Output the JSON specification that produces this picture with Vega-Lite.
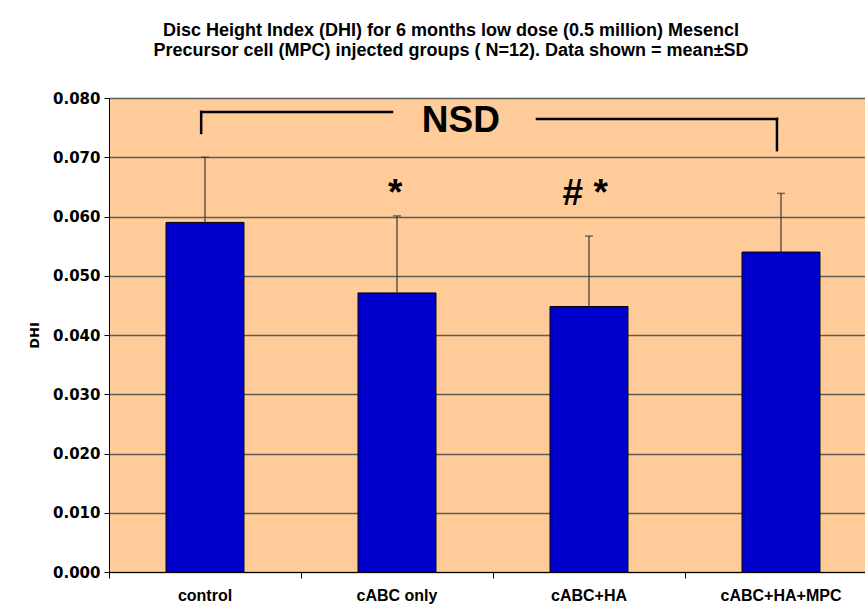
{
  "$schema": "https://vega.github.io/schema/vega-lite/v6.json",
  "width": 768,
  "height": 474,
  "autosize": {"type": "none"},
  "padding": {"left": 109, "top": 98, "right": -12, "bottom": 42},
  "background": "white",
  "title": {
    "text": ["Disc Height Index (DHI) for 6 months low dose (0.5 million) Mesencl", "Precursor cell (MPC) injected groups ( N=12). Data shown = mean±SD"],
    "anchor": "middle",
    "dx": -42,
    "offset": 31,
    "font": "Liberation Sans",
    "fontSize": 18,
    "fontWeight": "bold",
    "lineHeight": 20,
    "color": "black"
  },
  "datasets": {
    "bars": [
      {"group": "control", "mean": 0.059, "upper": 0.070},
      {"group": "cABC only", "mean": 0.0471, "upper": 0.0601},
      {"group": "cABC+HA", "mean": 0.0448, "upper": 0.0567},
      {"group": "cABC+HA+MPC", "mean": 0.054, "upper": 0.0639}
    ],
    "lines": [
      {"x": 0.48, "x2": 0.48, "y": 0.0741, "y2": 0.07764},
      {"x": 0.48, "x2": 1.474, "y": 0.07764, "y2": 0.07764},
      {"x": 2.229, "x2": 3.479, "y": 0.07646, "y2": 0.07646},
      {"x": 3.479, "x2": 3.479, "y": 0.0712, "y2": 0.07646}
    ],
    "labels": [
      {"x": 1.833, "y": 0.0743, "text": "NSD"},
      {"x": 1.49, "y": 0.0619, "text": "*"},
      {"x": 2.48, "y": 0.0619, "text": "# *"}
    ]
  },
  "resolve": {"scale": {"x": "independent"}},
  "layer": [
    {
      "data": {"name": "bars"},
      "mark": {"type": "bar", "color": "#0000CC", "stroke": "black", "strokeWidth": 1, "width": {"band": 0.406}},
      "encoding": {
        "x": {
          "field": "group", "type": "nominal", "sort": null,
          "scale": {"paddingInner": 0, "paddingOuter": 0},
          "axis": {
            "title": null, "labelAngle": 0, "bandPosition": 0,
            "domainColor": "black", "domainWidth": 1,
            "tickColor": "black", "tickSize": 6, "tickWidth": 1,
            "labelFont": "Liberation Sans", "labelFontSize": 16, "labelFontWeight": "bold",
            "labelColor": "black", "labelPadding": 9, "grid": false
          }
        },
        "y": {
          "field": "mean", "type": "quantitative", "title": "DHI",
          "scale": {"domain": [0, 0.08], "nice": false, "zero": true},
          "axis": {
            "values": [0, 0.01, 0.02, 0.03, 0.04, 0.05, 0.06, 0.07, 0.08],
            "format": ".3f",
            "domainColor": "black", "domainWidth": 1,
            "tickColor": "black", "tickSize": 5, "tickWidth": 1,
            "labelFont": "DejaVu Sans", "labelFontSize": 15, "labelFontWeight": "bold",
            "labelColor": "black", "labelPadding": 4,
            "grid": true, "gridColor": "#5b5b5b", "gridWidth": 1.5,
            "titleFont": "DejaVu Sans", "titleFontSize": 13, "titleFontWeight": "bold",
            "titleColor": "black", "titlePadding": 11
          }
        }
      }
    },
    {
      "data": {"name": "bars"},
      "mark": {"type": "rule", "color": "#3a3a3a", "strokeWidth": 1.2},
      "encoding": {
        "x": {"field": "group", "type": "nominal", "sort": null, "scale": {"paddingInner": 0, "paddingOuter": 0}, "axis": null},
        "y": {"field": "mean", "type": "quantitative", "title": "DHI"},
        "y2": {"field": "upper"}
      }
    },
    {
      "data": {"name": "bars"},
      "mark": {"type": "tick", "color": "#3a3a3a", "thickness": 1.5, "size": 8},
      "encoding": {
        "x": {"field": "group", "type": "nominal", "sort": null, "scale": {"paddingInner": 0, "paddingOuter": 0}, "axis": null},
        "y": {"field": "upper", "type": "quantitative", "title": "DHI"}
      }
    },
    {
      "data": {"name": "lines"},
      "mark": {"type": "rule", "color": "black", "strokeWidth": 2.5, "strokeCap": "square"},
      "encoding": {
        "x": {"field": "x", "type": "quantitative", "scale": {"domain": [0, 4], "nice": false, "zero": false}, "axis": null},
        "x2": {"field": "x2"},
        "y": {"field": "y", "type": "quantitative", "title": "DHI"},
        "y2": {"field": "y2"}
      }
    },
    {
      "data": {"name": "labels"},
      "mark": {"type": "text", "font": "Liberation Sans", "fontSize": 37, "fontWeight": "bold", "color": "black", "align": "center", "baseline": "alphabetic"},
      "encoding": {
        "x": {"field": "x", "type": "quantitative", "scale": {"domain": [0, 4], "nice": false, "zero": false}, "axis": null},
        "y": {"field": "y", "type": "quantitative", "title": "DHI"},
        "text": {"field": "text"}
      }
    }
  ],
  "config": {
    "view": {"fill": "#FFCC99", "stroke": "black", "strokeWidth": 1}
  }
}
